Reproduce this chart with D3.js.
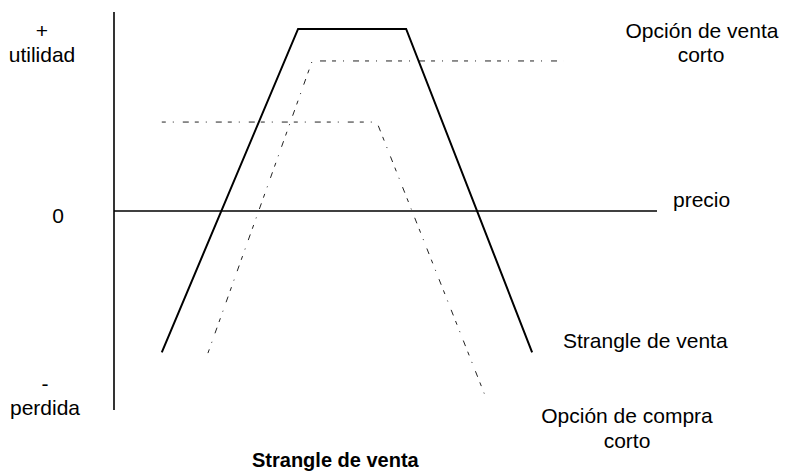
<!DOCTYPE html>
<html>
<head>
<meta charset="utf-8">
<script src="https://cdn.jsdelivr.net/npm/d3@7"></script>
<style>
  body { margin: 0; background: #fff; }
  text { font-family: "Liberation Sans", Arial, sans-serif; fill: #000; }
</style>
</head>
<body>
<div id="chart"></div>
<script>
// Payoff lines (price, profit) in chart units
var strangle = [[8.8, -7.1], [33.9, 9.15], [53.8, 9.15], [77.0, -7.1]];
var shortPut = [[17.3, -7.14], [36.5, 7.54], [82.7, 7.54]];
var shortCall = [[8.8, 4.47], [48.4, 4.47], [68.3, -9.25]];

// Axis ranges
var priceRange = [0, 100];
var profitRange = [-10, 10];

var width = 785, height = 472;

var svg = d3.select('#chart').append('svg')
  .attr('width', width)
  .attr('height', height);

var x = d3.scaleLinear().domain(priceRange).range([114, 657]);
var y = d3.scaleLinear().domain(profitRange).range([410, 12]);

var line = d3.line()
  .x(function (d) { return x(d[0]); })
  .y(function (d) { return y(d[1]); });

// axes (plain lines, no ticks)
svg.append('line')
  .attr('x1', x(0)).attr('x2', x(0))
  .attr('y1', y(10)).attr('y2', y(-10))
  .attr('stroke', '#000').attr('stroke-width', 1.6);

svg.append('line')
  .attr('x1', x(0)).attr('x2', x(100))
  .attr('y1', y(0)).attr('y2', y(0))
  .attr('stroke', '#000').attr('stroke-width', 1.6);

// dashed option lines
[shortPut, shortCall].forEach(function (d) {
  svg.append('path')
    .datum(d)
    .attr('d', line)
    .attr('fill', 'none')
    .attr('stroke', '#222')
    .attr('stroke-width', 1)
    .attr('stroke-dasharray', '4,7,1,9,6,6');
});

// strangle
svg.append('path')
  .datum(strangle)
  .attr('d', line)
  .attr('fill', 'none')
  .attr('stroke', '#000')
  .attr('stroke-width', 2);

// labels
function label(txt, px, py, anchor, bold) {
  svg.append('text')
    .attr('x', px).attr('y', py)
    .attr('text-anchor', anchor || 'start')
    .attr('font-size', bold ? 20 : 21)
    .attr('font-weight', bold ? 'bold' : 'normal')
    .text(txt);
}

label('+', 42, 38, 'middle');
label('utilidad', 42, 62, 'middle');
label('0', 58, 223, 'middle');
label('-', 45, 391, 'middle');
label('perdida', 45, 415, 'middle');
label('precio', 673, 207);
label('Opción de venta', 702, 38, 'middle');
label('corto', 701, 62, 'middle');
label('Strangle de venta', 563, 348);
label('Opción de compra', 627, 423, 'middle');
label('corto', 627, 448, 'middle');
label('Strangle de venta', 252, 467, 'start', true);
</script>
</body>
</html>
